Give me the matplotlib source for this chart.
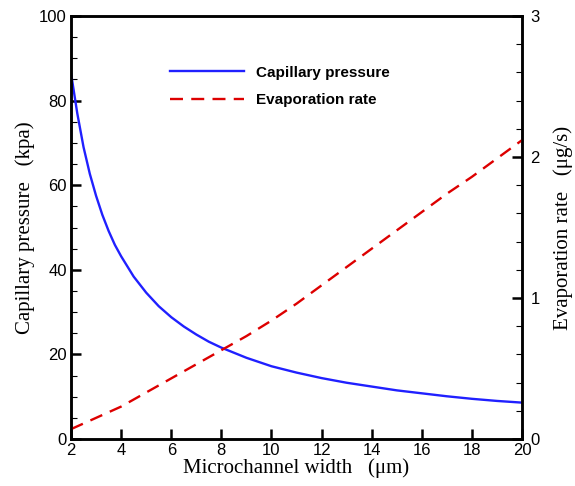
import matplotlib
matplotlib.use("Agg")
import matplotlib.pyplot as plt
from matplotlib.ticker import MultipleLocator

# capillary pressure (kPa) against channel width (um)
width_p = [2, 2.25, 2.5, 2.75, 3, 3.25, 3.5, 3.75, 4, 4.5, 5, 5.5, 6, 6.5, 7, 7.5, 8,
           9, 10, 11, 12, 13, 14, 15, 16, 17, 18, 19, 20]
pressure = [86.5, 77, 69, 62.7, 57.5, 53, 49.2, 45.9, 43.2, 38.4, 34.6, 31.4, 28.8,
            26.6, 24.7, 23.0, 21.6, 19.2, 17.2, 15.7, 14.4, 13.3, 12.4, 11.5, 10.8,
            10.1, 9.5, 9.0, 8.6]

# evaporation rate (ug/s)
width_e = [2, 3, 4, 5, 6, 7, 8, 9, 10, 11, 12, 13, 14, 15, 16, 17, 18, 19, 20]
evap = [0.07, 0.15, 0.23, 0.33, 0.43, 0.53, 0.63, 0.73, 0.84, 0.96, 1.09, 1.22,
        1.35, 1.48, 1.61, 1.74, 1.86, 1.99, 2.12]

tick_font = "Liberation Sans"
label_font = "Liberation Serif"

fig = plt.figure(figsize=(5.75, 4.86), dpi=100)
ax = fig.add_axes([0.1235, 0.0967, 0.7845, 0.8703])
ax2 = ax.twinx()

l1, = ax.plot(width_p, pressure, color="#2020ff", lw=1.7, label="Capillary pressure")
l2, = ax2.plot(width_e, evap, color="#dd0000", lw=1.7, ls=(0, (5.5, 3.5)), label="Evaporation rate")

ax.set_xlim(2, 20)
ax.set_ylim(0, 100)
ax2.set_ylim(0, 3)

ax.xaxis.set_major_locator(MultipleLocator(2))
ax.yaxis.set_major_locator(MultipleLocator(20))
ax.yaxis.set_minor_locator(MultipleLocator(5))
ax2.yaxis.set_major_locator(MultipleLocator(1))
ax2.yaxis.set_minor_locator(MultipleLocator(0.2))

for a in (ax, ax2):
    for s in a.spines.values():
        s.set_linewidth(1.8)
    a.tick_params(which="major", direction="in", length=7, width=1.8, labelsize=12, pad=3)
    a.tick_params(which="minor", direction="in", length=4, width=0.8)
    for t in a.get_xticklabels() + a.get_yticklabels():
        t.set_fontfamily(tick_font)
ax.tick_params(axis="x", top=False)
ax2.tick_params(axis="y", which="major", pad=6)

ax.set_xlabel("Microchannel width   (\u03bcm)", fontfamily=label_font, fontsize=15, labelpad=0)
ax.set_ylabel("Capillary pressure   (kpa)", fontfamily=label_font, fontsize=15, labelpad=3)
ax2.set_ylabel("Evaporation rate   (\u03bcg/s)", fontfamily=label_font, fontsize=15, labelpad=10)

ax.legend(handles=[l1, l2], loc="upper left", bbox_to_anchor=(0.19, 0.915), frameon=False,
          handlelength=4.8, handletextpad=0.8, labelspacing=0.9,
          prop={"family": tick_font, "weight": "bold", "size": 11})

fig.savefig("out.png", dpi=100)
